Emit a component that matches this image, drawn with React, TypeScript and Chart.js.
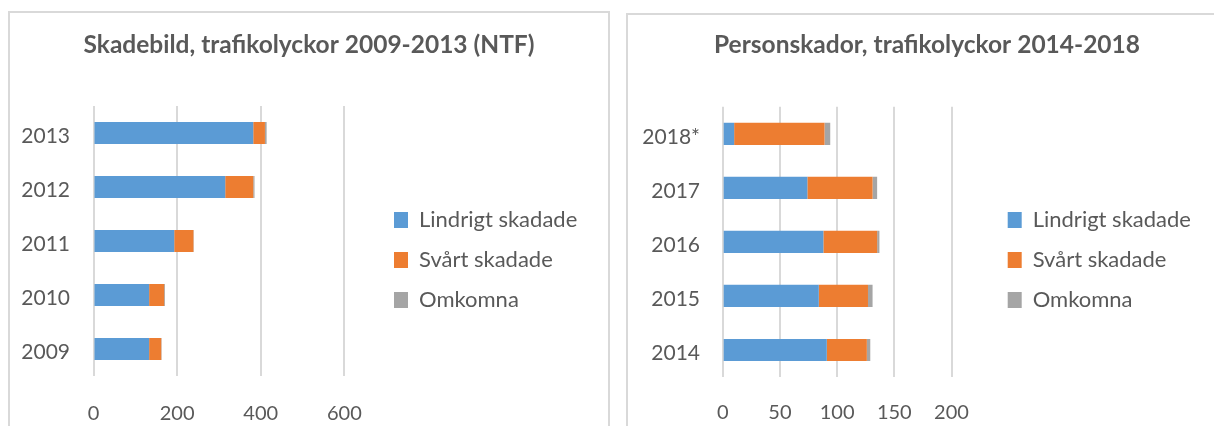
import React, { useEffect, useRef } from 'react';
import { Chart, registerables } from 'chart.js';

Chart.register(...registerables);

// ---------- data ----------
const seriesNames = ['Lindrigt skadade', 'Svårt skadade', 'Omkomna'];
const seriesColors = ['#5B9BD5', '#ED7D31', '#A5A5A5'];

const title1 = 'Skadebild, trafikolyckor 2009-2013 (NTF)';
const years1 = ['2009', '2010', '2011', '2012', '2013'];
const lindrigt1 = [133, 133, 193, 315, 382];
const svart1 = [29, 36, 46, 67, 28];
const omkomna1 = [1, 2, 1, 3, 4];
const xMax1 = 600;
const xStep1 = 200;

const title2 = 'Personskador, trafikolyckor 2014-2018';
const years2 = ['2014', '2015', '2016', '2017', '2018*'];
const lindrigt2 = [91, 84, 88, 74, 10];
const svart2 = [35, 43, 47, 57, 79];
const omkomna2 = [3, 4, 2, 4, 5];
const xMax2 = 200;
const xStep2 = 50;

// ---------- style ----------
const FONT = 'Lato';
const TEXT = '#595959';
const GRID = '#d9d9d9';
const BORDER = '#d9d9d9';
const LEGEND_FONT = 22;
const LEGEND_BOX_W = 14;
const LEGEND_BOX_H = 16;
const LEGEND_PAD = 18;

type Panel = {
  title: string;
  labels: string[];
  values: number[][];
  xMax: number;
  xStep: number;
  width: number;
  height: number;
  yAxisWidth: number;
  yLabelPad: number;
  plotRight: number;
  legendBoxX: number;
  titlePadTop: number;
  titlePadBottom: number;
  xAxisHeight: number;
  xLabelPad: number;
};

const panel1: Panel = {
  title: title1,
  labels: years1,
  values: [lindrigt1, svart1, omkomna1],
  xMax: xMax1,
  xStep: xStep1,
  width: 598,
  height: 494,
  yAxisWidth: 83.5,
  yLabelPad: 23.5,
  plotRight: 334.4,
  legendBoxX: 384,
  titlePadTop: 17.3,
  titlePadBottom: 46.3,
  xAxisHeight: 131,
  xLabelPad: 26,
};

const panel2: Panel = {
  title: title2,
  labels: years2,
  values: [lindrigt2, svart2, omkomna2],
  xMax: xMax2,
  xStep: xStep2,
  width: 598,
  height: 490,
  yAxisWidth: 94.7,
  yLabelPad: 22.7,
  plotRight: 323.5,
  legendBoxX: 379.7,
  titlePadTop: 15.3,
  titlePadBottom: 47.1,
  xAxisHeight: 128,
  xLabelPad: 23.5,
};

function legendNaturalWidth(): number {
  const ctx = document.createElement('canvas').getContext('2d') as CanvasRenderingContext2D;
  ctx.font = `${LEGEND_FONT}px ${FONT}`;
  const w = Math.max(...seriesNames.map((n) => ctx.measureText(n).width));
  return LEGEND_PAD + LEGEND_BOX_W + LEGEND_FONT / 2 + w + 10;
}

const hiddenAxis = (width: number, weight: number) => ({
  type: 'linear',
  axis: 'y',
  position: 'right',
  weight,
  grid: { display: false, drawTicks: false },
  ticks: { display: false },
  border: { display: false },
  afterFit: (s: any) => {
    s.width = width;
  },
});

function BarPanel({ p }: { p: Panel }) {
  const ref = useRef<HTMLCanvasElement>(null);
  useEffect(() => {
    const legendW = legendNaturalWidth();
    const legendLeft = p.legendBoxX - LEGEND_PAD;
    const spacer = legendLeft - p.plotRight;
    const rightRest = Math.max(0, p.width - legendLeft - legendW);
    const chart = new Chart(ref.current as HTMLCanvasElement, {
      type: 'bar',
      data: {
        labels: p.labels,
        datasets: seriesNames.map((name, i) => ({
          label: name,
          data: p.values[i],
          backgroundColor: seriesColors[i],
          borderWidth: 0,
          categoryPercentage: 1,
          barPercentage: 0.41,
        })),
      },
      options: {
        indexAxis: 'y',
        responsive: false,
        animation: false,
        events: [],
        layout: { padding: 0 },
        scales: {
          x: {
            stacked: true,
            min: 0,
            max: p.xMax,
            ticks: {
              stepSize: p.xStep,
              color: TEXT,
              font: { family: FONT, size: 20 },
              padding: p.xLabelPad,
              maxRotation: 0,
            },
            grid: { color: GRID, lineWidth: 2, drawTicks: false },
            border: { display: false },
            afterFit: (s: any) => {
              s.height = p.xAxisHeight;
            },
          },
          y: {
            stacked: true,
            reverse: true,
            ticks: {
              color: TEXT,
              font: { family: FONT, size: 21 },
              padding: p.yLabelPad,
              labelOffset: 3.5,
            },
            grid: { display: false, drawTicks: false },
            border: { display: false },
            afterFit: (s: any) => {
              s.width = p.yAxisWidth;
            },
          },
          spacerInner: hiddenAxis(spacer, 0),
          spacerOuter: hiddenAxis(rightRest, 2000),
        },
        plugins: {
          title: {
            display: true,
            text: p.title,
            color: TEXT,
            font: { family: FONT, size: 24.5, weight: 'bold' },
            padding: { top: p.titlePadTop, bottom: p.titlePadBottom },
          },
          legend: {
            position: 'right',
            align: 'center',
            maxWidth: legendW + 1,
            labels: {
              boxWidth: LEGEND_BOX_W,
              boxHeight: LEGEND_BOX_H,
              padding: LEGEND_PAD,
              color: TEXT,
              font: { family: FONT, size: LEGEND_FONT },
            },
          },
          tooltip: { enabled: false },
        },
      } as any,
    });
    return () => chart.destroy();
  }, []);
  return <canvas ref={ref} width={p.width} height={p.height} style={{ display: 'block' }} />;
}

export default function App() {
  return (
    <div
      style={{
        position: 'fixed',
        left: 0,
        top: 0,
        width: 1214,
        height: 426,
        overflow: 'hidden',
        background: '#ffffff',
      }}
    >
      <div
        style={{
          position: 'absolute',
          left: 8,
          top: 11,
          width: 598,
          height: 600,
          border: `2px solid ${BORDER}`,
          background: '#fff',
        }}
      >
        <BarPanel p={panel1} />
      </div>
      <div
        style={{
          position: 'absolute',
          left: 626,
          top: 13,
          width: 598,
          height: 600,
          border: `2px solid ${BORDER}`,
          background: '#fff',
        }}
      >
        <BarPanel p={panel2} />
      </div>
    </div>
  );
}
